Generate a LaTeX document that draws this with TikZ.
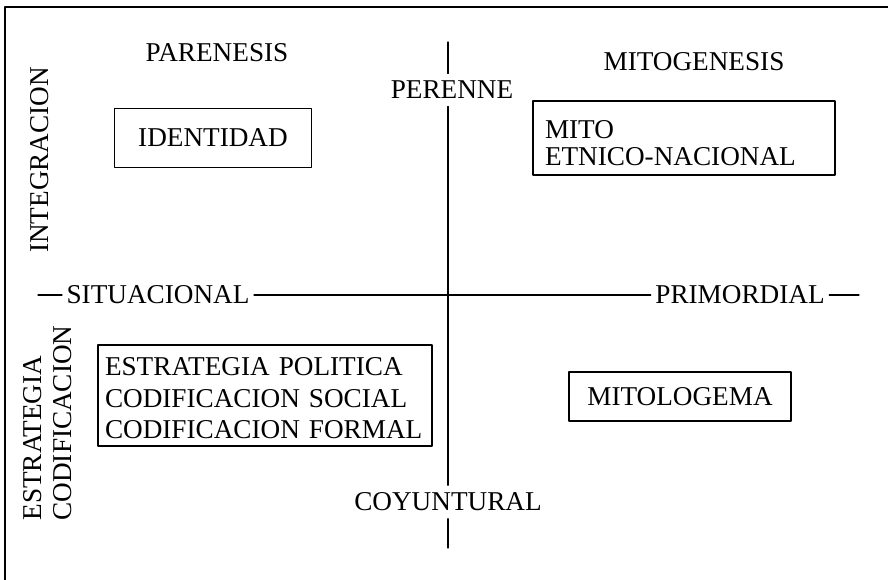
\documentclass[tikz,border=0pt]{standalone}
\usepackage{fontspec}
\setmainfont{Liberation Serif}
\begin{document}
\begin{tikzpicture}[x=1pt,y=-1pt,line cap=round,line join=round,line width=1.1pt,
	font=\fontsize{27.2}{31.5}\selectfont,
	caja/.style={draw,inner sep=0pt},
	eje/.style={inner xsep=4pt,inner ysep=7pt}]
	\useasboundingbox (0,0) rectangle (888,580);
	\draw (5,580)--(5,7)--(888,7);
	\node (parenesis) at (217,53) {PARENESIS};
	\node (mitogenesis) at (694,62) {MITOGENESIS};
	\node[eje] (perenne) at (452,90) {PERENNE};
	\node[eje] (coyuntural) at (448,502) {COYUNTURAL};
	\node[eje] (situacional) at (158,295) {SITUACIONAL};
	\node[eje] (primordial) at (740,295) {PRIMORDIAL};
	\node[rotate=90] (integracion) at (40,160) {INTEGRACION};
	\node[rotate=90,align=left,anchor=west,inner sep=0pt,font=\fontsize{27.2}{30}\selectfont] (estrategia) at (48,521) {ESTRATEGIA\\CODIFICACION};
	\node[caja,minimum width=197,minimum height=59] (identidad) at (213,138) {IDENTIDAD};
	\node[caja,text width=278,inner xsep=12pt,minimum height=74,align=left,font=\fontsize{27.2}{27}\selectfont] (mito) at (684,138) {\rule{0pt}{29pt}MITO\\ETNICO-NACIONAL};
	\node[caja,text width=320,inner xsep=7pt,minimum height=101,align=left] (politica) at (265,395.5) {\rule{0pt}{24pt}ESTRATEGIA POLITICA\\CODIFICACION SOCIAL\\CODIFICACION FORMAL};
	\node[caja,minimum width=222,minimum height=49] (mitologema) at (680,396.5) {MITOLOGEMA};
	\coordinate (vtop) at (448,42);
	\coordinate (vbot) at (448,548);
	\coordinate (hizq) at (38,295);
	\coordinate (hder) at (859,295);
	\draw (vtop) -- (vtop |- perenne.north);
	\draw (vtop |- perenne.south) -- (vtop |- coyuntural.north);
	\draw (vtop |- coyuntural.south) -- (vbot);
	\draw (hizq) -- (situacional) -- (primordial) -- (hder);
\end{tikzpicture}
\end{document}
